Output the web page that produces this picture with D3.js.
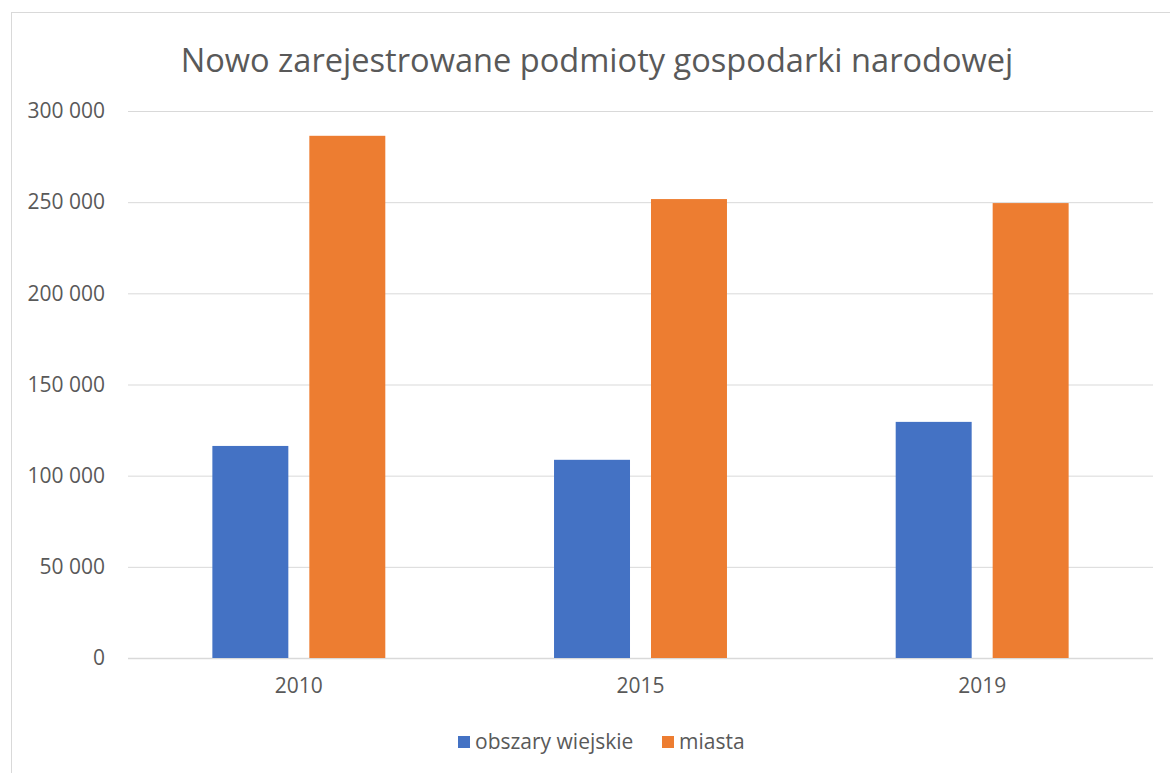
<!DOCTYPE html>
<html>
<head>
<meta charset="utf-8">
<script src="https://cdn.jsdelivr.net/npm/d3@7"></script>
<style>
  body { margin: 0; background: #fff; }
  svg { font-family: "Open Sans", "Noto Sans", sans-serif; }
</style>
</head>
<body>
<svg></svg>
<script>
const title = "Nowo zarejestrowane podmioty gospodarki narodowej"
const years = ["2010", "2015", "2019"]
const seriesNames = ["obszary wiejskie", "miasta"]
const rural = [116300, 108700, 129500]
const cities = [286400, 251700, 249500]
const yTicks = [0, 50000, 100000, 150000, 200000, 250000, 300000]
const colors = ["#4472c4", "#ed7d31"]

let width = 1170
let height = 773
let plotLeft = 128, plotRight = 1153, plotTop = 111, plotBottom = 658

let svg = d3.select("svg")
    .attr("width", width)
    .attr("height", height)

// chart frame
svg.append("rect")
    .attr("x", 11.5).attr("y", 12.5)
    .attr("width", 1170).attr("height", 800)
    .attr("fill", "none").attr("stroke", "#d9d9d9")

const xScale = d3.scaleBand()
    .domain(years)
    .range([plotLeft, plotRight])

const inner = d3.scaleBand()
    .domain(seriesNames)
    .range([0, xScale.bandwidth()])
    .paddingInner(0.2165)
    .paddingOuter(0.87)

const yScale = d3.scaleLinear()
    .domain([0, 300000])
    .range([plotBottom, plotTop])

const fmt = v => d3.format(",")(v).replace(/,/g, " ")

// gridlines
svg.append("g")
    .selectAll("line")
    .data(yTicks)
    .enter()
    .append("line")
    .attr("x1", plotLeft).attr("x2", plotRight)
    .attr("y1", d => yScale(d) + 0.5).attr("y2", d => yScale(d) + 0.5)
    .attr("stroke", "#d9d9d9")
    .attr("stroke-width", d => d === 0 ? 1.5 : 1)

// y axis labels
const yAxis = d3.axisLeft(yScale).tickValues(yTicks).tickFormat(fmt).tickSize(0).tickPadding(0)
const gy = svg.append("g")
    .attr("transform", "translate(105,0)")
    .call(yAxis)
gy.select(".domain").remove()
gy.selectAll("text")
    .attr("font-size", 21)
    .attr("font-family", "Open Sans")
    .attr("fill", "#595959")

// bars
const data = years.map((y, i) => ({ year: y, values: [rural[i], cities[i]] }))
svg.append("g")
    .selectAll("g")
    .data(data)
    .enter()
    .append("g")
    .attr("transform", d => "translate(" + xScale(d.year) + ",0)")
    .selectAll("rect")
    .data(d => d.values.map((v, j) => ({ name: seriesNames[j], value: v, j: j })))
    .enter()
    .append("rect")
    .attr("x", d => inner(d.name))
    .attr("width", inner.bandwidth())
    .attr("y", d => yScale(d.value))
    .attr("height", d => plotBottom - yScale(d.value))
    .attr("fill", d => colors[d.j])

// x axis labels
const xAxis = d3.axisBottom(xScale).tickSize(0).tickPadding(0)
const gx = svg.append("g")
    .attr("transform", "translate(0,678)")
    .call(xAxis)
gx.select(".domain").remove()
gx.selectAll("text")
    .attr("font-size", 21)
    .attr("font-family", "Open Sans")
    .attr("fill", "#595959")

// title
svg.append("text")
    .attr("x", 597).attr("y", 72)
    .attr("text-anchor", "middle")
    .attr("font-size", 32.6)
    .attr("fill", "#595959")
    .text(title)

// legend
const legendX = [458, 662]
const leg = svg.append("g")
    .selectAll("g")
    .data(seriesNames)
    .enter()
    .append("g")
    .attr("transform", (d, i) => "translate(" + legendX[i] + ",736)")
leg.append("rect")
    .attr("width", 12).attr("height", 12)
    .attr("fill", (d, i) => colors[i])
leg.append("text")
    .attr("x", 17).attr("y", 13)
    .attr("font-size", 21)
    .attr("fill", "#595959")
    .text(d => d)
</script>
</body>
</html>
